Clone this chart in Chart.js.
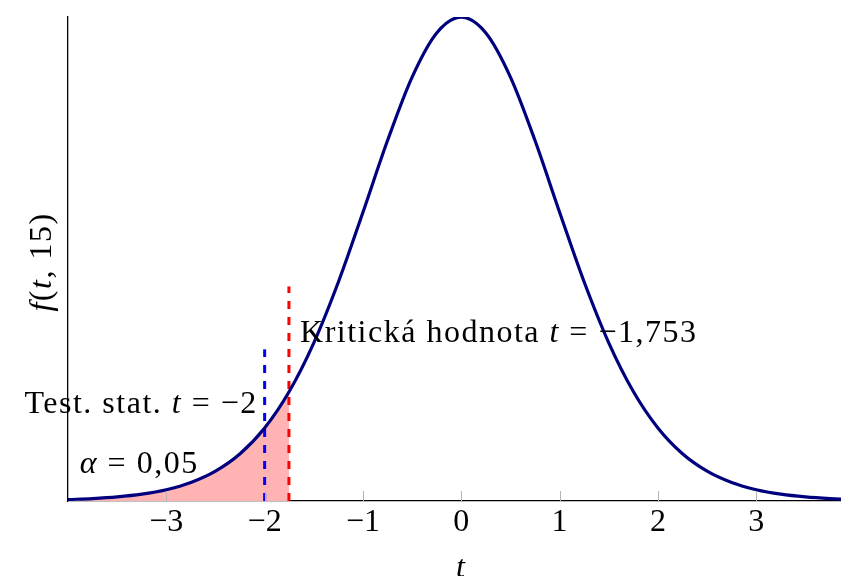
<!DOCTYPE html>
<html>
<head>
<meta charset="utf-8">
<script src="https://cdn.jsdelivr.net/npm/chart.js@4/dist/chart.umd.min.js"></script>
<style>
  html, body { margin: 0; padding: 0; background: #ffffff; }
  canvas { display: block; }
</style>
</head>
<body>
<canvas id="chart" width="841" height="576"></canvas>
<script>
// Student t density, 15 degrees of freedom
const tGrid = [-4, -3.75, -3.5, -3.25, -3, -2.75, -2.5, -2.25, -2, -1.75, -1.5, -1.25, -1, -0.75, -0.5, -0.25,
               0, 0.25, 0.5, 0.75, 1, 1.25, 1.5, 1.75, 2, 2.25, 2.5, 2.75, 3, 3.25, 3.5, 3.75, 4];
const density = [0.00118, 0.00198, 0.00331, 0.00552, 0.00914, 0.0150, 0.0242, 0.0383, 0.0592, 0.0888, 0.1283, 0.1776, 0.2342, 0.2923, 0.3438, 0.3796,
                 0.3924, 0.3796, 0.3438, 0.2923, 0.2342, 0.1776, 0.1283, 0.0888, 0.0592, 0.0383, 0.0242, 0.0150, 0.00914, 0.00552, 0.00331, 0.00198, 0.00118];

// critical value and test statistic
const criticalT = -1.753;
const criticalDensity = 0.0884;
const criticalLineTop = 0.174;
const testT = -2;
const testLineTop = 0.123;

const tickValues = [-3, -2, -1, 0, 1, 2, 3];

const FONT = '"Liberation Serif", "DejaVu Serif", serif';
const FS = 32;
const SPACING = '1.5px';

const curvePoints = tGrid.map((t, i) => ({ x: t, y: density[i] }));
const tailPoints = tGrid.map((t, i) => ({ x: t, y: density[i] }))
  .filter(p => p.x < criticalT)
  .concat([{ x: criticalT, y: criticalDensity }]);

const minus = v => String(v).replace('-', '\u2212');

// mixed upright / italic text runs
function drawRuns(ctx, runs, x, y, align) {
  const fontFor = s => (s === 'i' ? 'italic ' : '') + FS + 'px ' + FONT;
  ctx.letterSpacing = SPACING;
  let total = 0;
  runs.forEach(r => { ctx.font = fontFor(r[1]); total += ctx.measureText(r[0]).width; });
  let cx = align === 'right' ? x - total : align === 'center' ? x - total / 2 : x;
  ctx.textAlign = 'left';
  runs.forEach(r => {
    ctx.font = fontFor(r[1]);
    ctx.fillText(r[0], cx, y);
    cx += ctx.measureText(r[0]).width;
  });
  ctx.letterSpacing = '0px';
}

const annotations = {
  id: 'annotations',
  afterDatasetsDraw(chart) {
    const { ctx, scales: { x, y } } = chart;
    ctx.save();
    // inward tick marks
    ctx.strokeStyle = '#b4b4b4';
    ctx.lineWidth = 1;
    tickValues.forEach(v => {
      const px = Math.round(x.getPixelForValue(v)) + 0.5;
      ctx.beginPath();
      ctx.moveTo(px, y.bottom);
      ctx.lineTo(px, y.bottom - 10);
      ctx.stroke();
    });

    ctx.fillStyle = '#000';
    ctx.textBaseline = 'alphabetic';
    drawRuns(ctx, [['Kritická hodnota ', 'n'], ['t', 'i'], [' = \u22121,753', 'n']],
      x.getPixelForValue(-1.64), y.getPixelForValue(0.129), 'left');
    drawRuns(ctx, [['Test. stat. ', 'n'], ['t', 'i'], [' = \u22122', 'n']],
      x.getPixelForValue(-2.07), y.getPixelForValue(0.0712), 'right');
    drawRuns(ctx, [['\u03b1', 'i'], [' = 0,05', 'n']],
      x.getPixelForValue(-3.88), y.getPixelForValue(0.0227), 'left');

    // axis titles
    drawRuns(ctx, [['t', 'i']], x.getPixelForValue(0), 577, 'center');
    ctx.translate(51, (y.top + y.bottom) / 2 + 3);
    ctx.rotate(-Math.PI / 2);
    drawRuns(ctx, [['f', 'i'], ['(', 'n'], ['t', 'i'], [', 15)', 'n']], 0, 0, 'center');
    ctx.restore();
  }
};

new Chart(document.getElementById('chart'), {
  type: 'line',
  data: {
    datasets: [
      {
        data: tailPoints,
        borderWidth: 0,
        pointRadius: 0,
        backgroundColor: '#ffb3b3',
        fill: 'origin',
        cubicInterpolationMode: 'monotone',
        order: 3
      },
      {
        data: curvePoints,
        borderColor: '#00007f',
        borderWidth: 3.2,
        pointRadius: 0,
        fill: false,
        cubicInterpolationMode: 'monotone',
        order: 0
      },
      {
        data: [{ x: criticalT, y: 0 }, { x: criticalT, y: criticalLineTop }],
        borderColor: '#ff0000',
        borderWidth: 3,
        borderDash: [8, 8],
        pointRadius: 0,
        fill: false,
        order: 1
      },
      {
        data: [{ x: testT, y: 0 }, { x: testT, y: testLineTop }],
        borderColor: '#0000ff',
        borderWidth: 3,
        borderDash: [8, 8],
        pointRadius: 0,
        fill: false,
        order: 2
      }
    ]
  },
  options: {
    responsive: false,
    animation: false,
    layout: { padding: { top: 17, right: 0, bottom: 0, left: 0 } },
    plugins: { legend: { display: false }, tooltip: { enabled: false } },
    scales: {
      x: {
        type: 'linear',
        min: -4,
        max: 3.862,
        afterFit(s) { s.height = 75; },
        afterBuildTicks(s) { s.ticks = tickValues.map(v => ({ value: v })); },
        grid: { display: false, drawTicks: false },
        border: { display: true, color: '#000', width: 1.3 },
        ticks: {
          padding: 6,
          color: '#000',
          autoSkip: false,
          maxRotation: 0,
          font: { family: FONT, size: FS, lineHeight: 1 },
          callback: v => minus(v)
        }
      },
      y: {
        min: 0,
        max: 0.3925,
        afterFit(s) { s.width = 68; },
        ticks: { display: false },
        grid: { display: false, drawTicks: false },
        border: { display: true, color: '#000', width: 1.3 }
      }
    }
  },
  plugins: [annotations]
});
</script>
</body>
</html>
